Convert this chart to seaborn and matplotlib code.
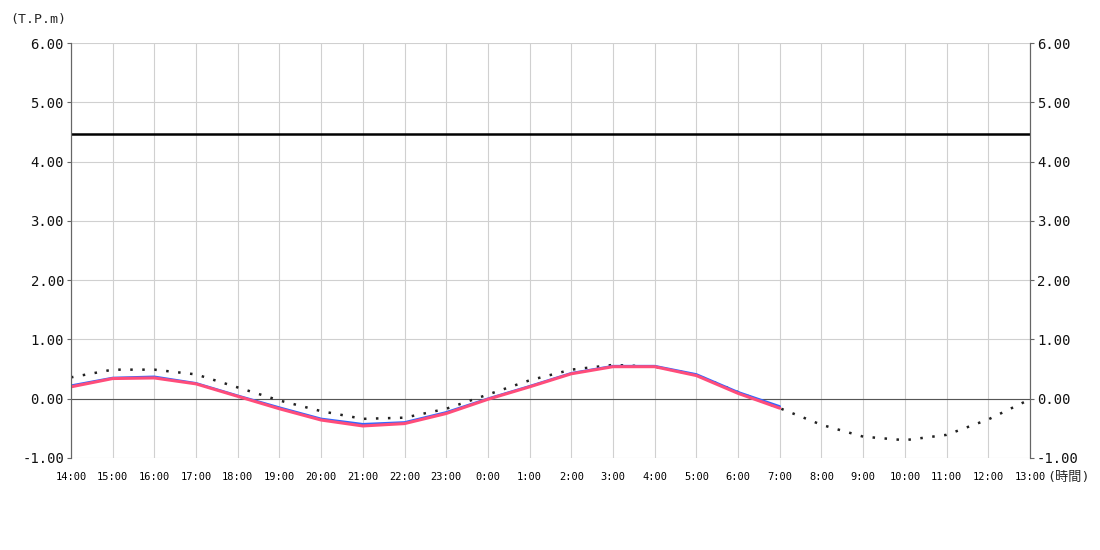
import numpy as np
import pandas as pd
import seaborn as sns
import matplotlib.pyplot as plt

# hourly tick labels, 14:00 -> 13:00 next day
hours = ["14:00", "15:00", "16:00", "17:00", "18:00", "19:00", "20:00", "21:00",
         "22:00", "23:00", "0:00", "1:00", "2:00", "3:00", "4:00", "5:00",
         "6:00", "7:00", "8:00", "9:00", "10:00", "11:00", "12:00", "13:00"]

# observed tide (blue) and corrected (red), until 7:00
blue_vals = [0.22, 0.35, 0.37, 0.26, 0.05, -0.15, -0.34, -0.43, -0.40, -0.23,
             0.00, 0.21, 0.43, 0.55, 0.55, 0.41, 0.11, -0.13]
red_vals = [0.20, 0.34, 0.35, 0.25, 0.04, -0.17, -0.36, -0.46, -0.42, -0.25,
            -0.01, 0.20, 0.42, 0.54, 0.54, 0.39, 0.09, -0.16]
# astronomical tide (dotted)
astro_vals = [0.36, 0.49, 0.49, 0.41, 0.19, -0.03, -0.21, -0.34, -0.32, -0.17,
              0.07, 0.31, 0.49, 0.57, 0.54, 0.40, 0.11, -0.16, -0.44, -0.64,
              -0.70, -0.61, -0.35, -0.01]
warn_level = 4.47

y_ticks = [-1, 0, 1, 2, 3, 4, 5, 6]

sns.set_style("white")
plt.rcParams['font.family'] = ['DejaVu Sans Mono', 'Noto Sans CJK JP']

fig = plt.figure(figsize=(11, 5.5), dpi=100)
ax = fig.add_axes([0.0645, 0.1673, 0.8718, 0.7545])

df_astro = pd.DataFrame({"x": range(len(astro_vals)), "y": astro_vals})
df_blue = pd.DataFrame({"x": range(len(blue_vals)), "y": blue_vals})
df_red = pd.DataFrame({"x": range(len(red_vals)), "y": red_vals})

for t in range(len(hours)):
    ax.axvline(t, color="#d0d0d0", lw=0.8, zorder=0)
for v in y_ticks:
    ax.axhline(v, color="#d0d0d0", lw=0.8, zorder=0)
ax.axhline(0, color="#555555", lw=0.8, zorder=1)
ax.axhline(warn_level, color="black", lw=1.8, zorder=2)

sns.lineplot(data=df_astro, x="x", y="y", ax=ax, color="#222222", lw=1.8,
             linestyle=(0, (1, 3.8)), zorder=3)
sns.lineplot(data=df_blue, x="x", y="y", ax=ax, color="#3366ff", lw=1.8, zorder=4)
sns.lineplot(data=df_red, x="x", y="y", ax=ax, color="#ff4d7a", lw=2.2, zorder=5)

ax.set_xlim(0, len(hours) - 1)
ax.set_ylim(-1, 6)
ax.set_xlabel("")
ax.set_ylabel("")
ax.set_xticks(range(len(hours)))
ax.set_xticklabels(hours, fontsize=7.5, color="black")
ax.tick_params(axis="x", direction="in", length=5, width=1, color="black", pad=10)
ax.set_yticks(y_ticks)
ax.set_yticklabels([f"{v:.2f}" for v in y_ticks], fontsize=10, color="#111111")
ax.tick_params(axis="y", direction="out", length=3, color="#666666", pad=2)

ax2 = ax.twinx()
ax2.set_ylim(-1, 6)
ax2.set_yticks(y_ticks)
ax2.set_yticklabels([f"{v:.2f}" for v in y_ticks], fontsize=10, color="#111111")
ax2.tick_params(axis="y", direction="out", length=3, color="#666666", pad=2)

for a in (ax, ax2):
    a.spines["top"].set_visible(False)
    a.spines["bottom"].set_visible(False)
    a.spines["left"].set_color("#666666")
    a.spines["right"].set_color("#666666")

fig.text(0.009, 0.964, "(T.P.m)", fontsize=9.5, ha="left", va="center")
fig.text(0.952, 0.132, "(時間)", fontsize=9.5, ha="left", va="center")

plt.savefig("out.png", dpi=100)
